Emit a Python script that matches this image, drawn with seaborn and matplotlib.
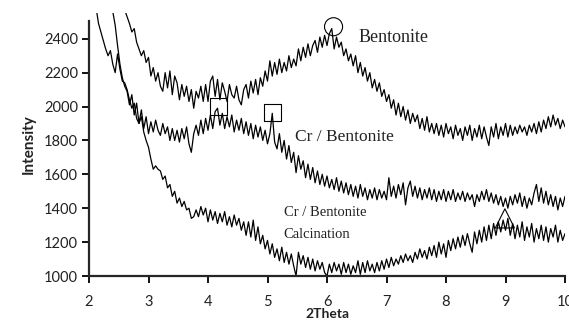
import numpy as np
import pandas as pd
import matplotlib
matplotlib.use("Agg")
import matplotlib.pyplot as plt
import seaborn as sns

# 2-theta scan grid (step 0.04 deg)
two_theta = np.round(np.arange(2.0, 10.0001, 0.04), 2)

bentonite = [
    3250, 3210, 3160, 3120, 3060, 3010, 2970, 2920, 2880, 2830,
    2790, 2740, 2700, 2650, 2610, 2570, 2530, 2490, 2440, 2460,
    2380, 2340, 2300, 2330, 2260, 2290, 2180, 2230, 2150, 2200,
    2120, 2090, 2200, 2110, 2210, 2070, 2180, 2140, 2040, 2130,
    2060, 2120, 2030, 2100, 1990, 2090, 2050, 2120, 2030, 2130,
    2030, 2150, 2180, 2060, 2160, 2040, 2140, 2090, 2030, 2130,
    2070, 2050, 2120, 2040, 2010, 2100, 2130, 2050, 2150, 2080,
    2160, 2070, 2170, 2120, 2210, 2150, 2270, 2180, 2260, 2190,
    2280, 2200, 2260, 2210, 2300, 2230, 2280, 2240, 2340, 2270,
    2350, 2290, 2370, 2300, 2360, 2390, 2320, 2410, 2350, 2420,
    2360, 2430, 2460, 2340, 2410, 2350, 2380, 2300, 2340, 2270,
    2310, 2240, 2300, 2200, 2260, 2180, 2230, 2150, 2200, 2110,
    2160, 2090, 2140, 2060, 2100, 2030, 2070, 1990, 2040, 1950,
    2020, 1940, 2000, 1920, 1980, 1900, 1960, 1910, 1950, 1870,
    1930, 1860, 1940, 1850, 1900, 1840, 1900, 1830, 1890, 1820,
    1900, 1840, 1880, 1810, 1890, 1830, 1870, 1800, 1880, 1830,
    1890, 1800, 1870, 1820, 1890, 1810, 1880, 1820, 1770, 1880,
    1820, 1900, 1810, 1880, 1830, 1900, 1820, 1890, 1830, 1880,
    1840, 1890, 1850, 1880, 1830, 1890, 1850, 1900, 1840, 1910,
    1850, 1920, 1870, 1940, 1880, 1950, 1890, 1930, 1870, 1920,
    1880,
]

cr_bentonite = [
    3500, 3440, 3370, 3300, 3220, 3140, 3050, 2930, 2800, 2680,
    2560, 2480, 2360, 2250, 2170, 2120, 2090, 2010, 2070, 1950,
    2020, 1900, 1980, 1870, 1940, 1840, 1910, 1850, 1920, 1860,
    1830, 1900, 1840, 1880, 1800, 1870, 1800, 1860, 1790, 1870,
    1810, 1880, 1780, 1730, 1840, 1890, 1830, 1920, 1840, 1930,
    1860, 1950, 1870, 1970, 1990, 1890, 1960, 1870, 1940, 1880,
    1950, 1850, 1920, 1860, 1930, 1840, 1910, 1830, 1900, 1810,
    1890, 1820, 1880, 1800, 1860, 1780, 1840, 1960, 1790, 1750,
    1840, 1730, 1800, 1690, 1770, 1670, 1730, 1610, 1710, 1630,
    1680, 1580, 1660, 1570, 1640, 1550, 1620, 1540, 1600, 1530,
    1590, 1520, 1570, 1510, 1580, 1500, 1560, 1490, 1550, 1480,
    1540, 1470, 1530, 1460, 1540, 1470, 1520, 1450, 1510, 1460,
    1520, 1450, 1510, 1460, 1500, 1450, 1580, 1470, 1530, 1460,
    1540, 1480, 1550, 1420, 1520, 1560, 1470, 1530, 1460, 1520,
    1450, 1510, 1460, 1520, 1450, 1510, 1440, 1500, 1450, 1510,
    1440, 1500, 1450, 1510, 1440, 1490, 1450, 1500, 1440, 1490,
    1450, 1480, 1410, 1480, 1440, 1500, 1450, 1510, 1440, 1490,
    1430, 1480, 1420, 1470, 1410, 1460, 1400, 1470, 1420, 1480,
    1430, 1490, 1410, 1470, 1400, 1460, 1420, 1490, 1540, 1440,
    1520, 1430, 1500, 1420, 1480, 1410, 1470, 1390, 1460, 1410,
    1470,
]

cr_bentonite_calcined = [
    2800, 2740, 2670, 2580, 2490, 2440, 2390, 2340, 2300, 2330,
    2250, 2200, 2310, 2220, 2150, 2140, 2100, 2040, 1990, 2020,
    1930, 1900, 1940, 1850, 1800, 1760, 1690, 1630, 1650, 1630,
    1620, 1570, 1590, 1520, 1540, 1470, 1500, 1430, 1460, 1410,
    1440, 1390, 1400, 1340, 1350, 1390, 1350, 1410, 1360, 1400,
    1320, 1390, 1330, 1380, 1310, 1370, 1320, 1380, 1300, 1350,
    1290, 1360, 1300, 1340, 1270, 1320, 1240, 1320, 1230, 1330,
    1210, 1290, 1190, 1240, 1160, 1210, 1130, 1190, 1110, 1160,
    1090, 1170, 1080, 1140, 1070, 1130, 1060, 1000, 1140, 1070,
    1120, 1050, 1110, 1040, 1100, 1030, 1090, 1040, 1080, 1020,
    1000, 1070, 1020, 1080, 1030, 1070, 1010, 1080, 1020, 1070,
    1010, 1060, 1020, 1090, 1010, 1080, 1020, 1090, 1030, 1070,
    1020, 1080, 1030, 1090, 1040, 1100, 1050, 1110, 1060, 1100,
    1070, 1120, 1080, 1130, 1090, 1120, 1080, 1140, 1100, 1160,
    1110, 1150, 1100, 1170, 1120, 1180, 1110, 1200, 1130, 1190,
    1110, 1210, 1150, 1220, 1160, 1230, 1170, 1240, 1180, 1250,
    1190, 1140, 1260, 1190, 1270, 1200, 1290, 1210, 1300, 1220,
    1310, 1240, 1320, 1260, 1330, 1270, 1340, 1240, 1310, 1220,
    1300, 1230, 1320, 1210, 1290, 1230, 1310, 1200, 1280, 1220,
    1300, 1210, 1290, 1200, 1280, 1230, 1300, 1200, 1270, 1210,
    1250,
]

# reflection symbols placed over the peaks
circle_x, circle_y = [6.11], [2471]
square_x, square_y = [4.18, 5.08], [1999, 1963]
triangle_x, triangle_y = [8.99], [1340]

x_ticks = [2, 3, 4, 5, 6, 7, 8, 9, 10]
y_ticks = [1000, 1200, 1400, 1600, 1800, 2000, 2200, 2400]

sns.set_style("ticks")
plt.rcParams["font.family"] = ["Lato", "DejaVu Sans"]

n = len(two_theta)
df = pd.DataFrame({
    "2Theta": np.concatenate([two_theta] * 3),
    "Intensity": np.concatenate([bentonite, cr_bentonite, cr_bentonite_calcined]),
    "sample": ["Bentonite"] * n + ["Cr / Bentonite"] * n + ["Calcination"] * n,
})

fig = plt.figure(figsize=(5.69, 3.22), dpi=100)
ax = fig.add_axes([89 / 569, 46 / 322, 476 / 569, 263 / 322])

sns.lineplot(data=df, x="2Theta", y="Intensity", units="sample", estimator=None,
             color="black", linewidth=0.9, ax=ax, legend=False)

mk = dict(facecolors="none", edgecolors="black", linewidths=0.8, zorder=5)
ax.scatter(circle_x, circle_y, marker="o", s=169, **mk)
ax.scatter(square_x, square_y, marker="s", s=150, **mk)
ax.scatter(triangle_x, triangle_y, marker="^", s=190, **mk)

serif = ["Liberation Serif", "DejaVu Serif"]
ax.text(6.53, 2410, "Bentonite", fontsize=13, family=serif, va="center", color="#222222")
ax.text(5.47, 1820, "Cr / Bentonite", fontsize=12.5, family=serif, va="center", color="#222222")
ax.text(5.27, 1372, "Cr / Bentonite", fontsize=10.5, family=serif, va="center", color="#222222")
ax.text(5.27, 1242, "Calcination", fontsize=10.5, family=serif, va="center", color="#222222")

ax.set_xlim(2, 10)
ax.set_ylim(1000, 2552)
ax.set_xticks(x_ticks)
ax.set_yticks(y_ticks)
ax.spines["left"].set_bounds(1000, 2505)
for s in ("top", "right"):
    ax.spines[s].set_visible(False)
for s in ("left", "bottom"):
    ax.spines[s].set_linewidth(1.6)
ax.tick_params(axis="both", which="major", labelsize=10.5, width=1.3, length=5,
               colors="black", labelcolor="#222222")
ax.tick_params(axis="x", pad=9)
ax.tick_params(axis="y", pad=3)
ax.set_xlabel("2Theta", fontsize=10, fontweight="bold", labelpad=-1, color="#222222")
ax.set_ylabel("Intensity", fontsize=11, fontweight="bold", labelpad=6, color="#222222")

fig.savefig("out.png", dpi=100)
